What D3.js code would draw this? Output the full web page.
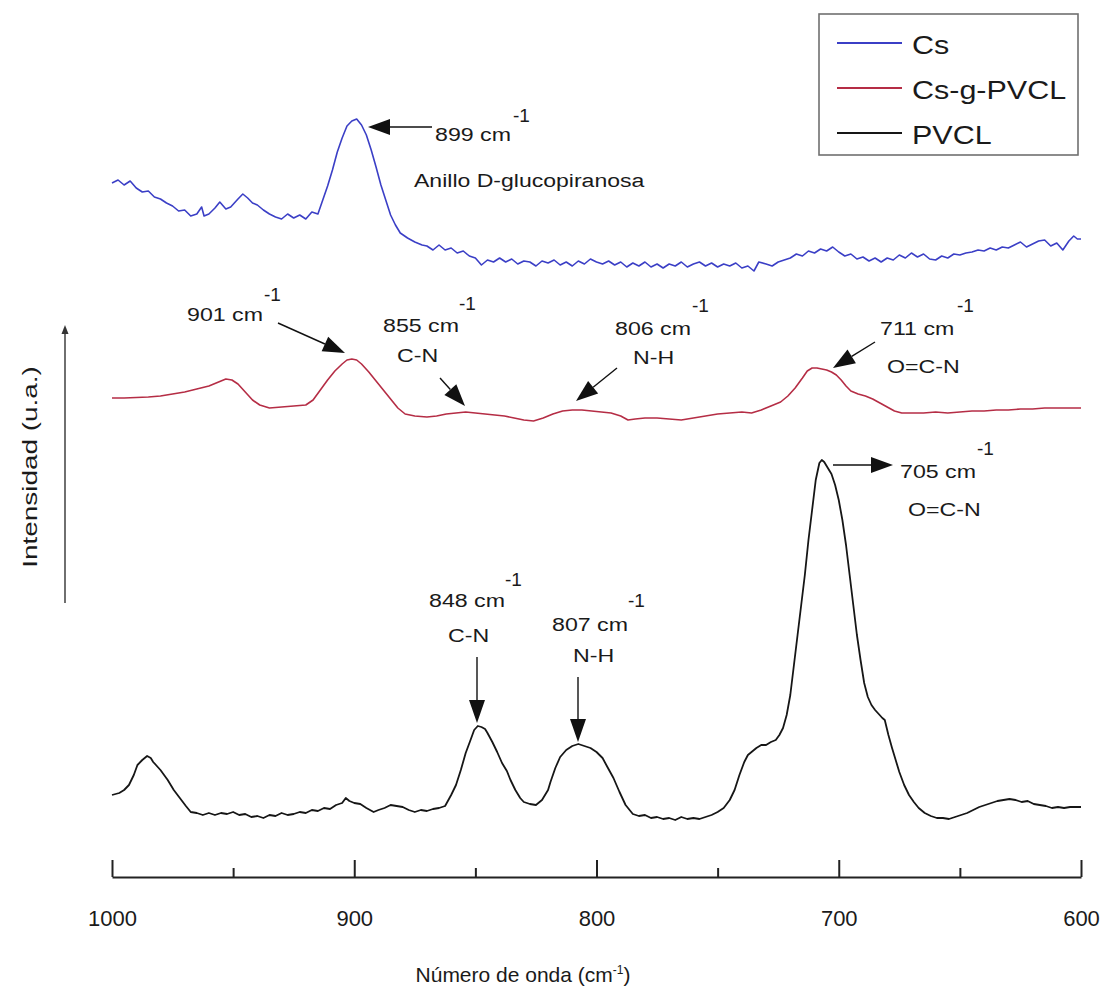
<!DOCTYPE html>
<html><head><meta charset="utf-8">
<script src="https://cdn.jsdelivr.net/npm/d3@7"></script>
<style>
body{margin:0;background:#fff}
svg{display:block}
text{font-family:"Liberation Sans",Arial,sans-serif;fill:#1a1a1a}
</style>
</head><body>
<svg id="chart" width="1105" height="991"></svg>
<script>
// ---------- data ----------
const seriesNames = ["Cs", "Cs-g-PVCL", "PVCL"];
const xTicks = [1000, 900, 800, 700, 600];
const xMinorTicks = [950, 850, 750, 650];
const xTitle = "Número de onda (cm";
const yTitle = "Intensidad (u.a.)";

// wavenumber (cm-1), intensity (a.u., stacked)
const csData = [
[1000,694],[997.5,697],[995,692],[992.5,696],[990,689],[987.5,685],[985,686],[982.5,680],[980,678],[977.5,674],
[975,671],[972.5,666],[970,667],[967.5,661],[965,663],[963,670],[962,661],[960,663],[957.5,669],[955.5,675],
[953,668],[951,670],[948,678],[946,683],[944,679],[942,674],[940,672],[937.5,667],[935,663],[932.5,660],
[930,658],[927.5,663],[925,659],[922.5,662],[920,658],[917.5,665],[915,663],[913,677],[911,691],[909,707],
[907,725],[905,739],[903,751],[901,756],[899,758],[897,752],[895,742],[893,727],[891,710],[889,692],
[887,677],[885,662],[883,652],[881,644],[878,639],[875,635],[872,632],[870,631],[867.5,627],[865,632],
[862.5,627],[860,629],[857.5,624],[855,626],[852.5,621],[850,619],[847.5,612],[845,617],[842.5,615],[840,619],
[837.5,615],[835,618],[832.5,613],[830,616],[827.5,615],[825,611],[822.5,616],[820,614],[817.5,617],[815,612],
[812.5,615],[810,611],[807.5,616],[805,613],[802.5,618],[800,615],[797.5,613],[795,616],[792.5,612],[790,615],
[787.5,610],[785,614],[782.5,611],[780,615],[777.5,610],[775,613],[772.5,609],[770,613],[767.5,611],[765,615],
[762.5,610],[760,613],[757.5,615],[755,611],[752.5,614],[750,610],[747.5,613],[745,611],[742.5,614],[740,609],
[737.5,611],[735,606],[733,615],[730,613],[727.5,611],[725,615],[722.5,617],[720,619],[717.5,623],[715,621],
[712.5,626],[710,624],[707.5,628],[705,626],[702.5,630],[700,625],[697.5,621],[695,623],[692.5,618],[690,620],
[687.5,616],[685,619],[682.5,615],[680,619],[677.5,617],[675,622],[672.5,619],[670,624],[667.5,620],[665,623],
[662.5,618],[660,617],[657.5,621],[655,619],[652.5,623],[650,622],[647.5,624],[645,625],[642.5,627],[640,626],
[637.5,629],[635,627],[632.5,630],[630,629],[627.5,632],[625,635],[622.5,630],[620,633],[617.5,636],[615,637],
[612.5,631],[610,634],[607.5,627],[605,636],[603,641],[601.5,638],[600,638]
];

const csgData = [
[1000,479],[995,479],[990,479.5],[985,480],[980,481],[975,483],[970,485],[965,488],[960,491],[956,495],
[953,498],[950.5,497],[948,493],[945,485],[942,477],[939,472],[935,469],[930,470],[925,471],[920,472],
[917,477],[914,487],[911,497],[908,506],[905,513],[903,517],[901,518],[899,517],[897,513],[894,505],
[891,496],[888,487],[885,478],[882,469],[879,463],[875,461],[870,460],[866,461],[862,463],[858,464],
[854,465],[850,464],[846,463],[842,462],[838,461],[834,459],[830,457],[826,456],[822,459],[818,463],
[814,466],[810,467],[806,467],[802,466],[798,465],[794,464],[790,461],[787,457],[784,458],[780,459],
[775,459],[770,458],[765,457],[760,459],[755,461],[750,463],[745,464],[740,465],[736,464],[732,467],
[728,471],[724,475],[721,481],[718,489],[715,499],[713,506],[711,509],[709,509],[707,508],[705,507],
[703,505],[701,502],[699,497],[697,491],[695,486],[692,483],[689,481],[686,478],[683,474],[680,470],
[677,466],[674,464],[670,464],[665,464],[660,465],[655,464],[650,465],[645,466],[640,466],[635,467],
[630,467],[625,468],[620,468],[615,469],[610,469],[605,469],[600,469]
];

const pvclData = [
[1000,82],[997,84],[995,87],[993,92],[991,102],[989.5,112],[987.5,117],[985.5,121],[984,119],[983,115],
[980,107],[977,97],[974.5,87],[972,79],[969.5,71],[967.5,65],[965,64],[962.5,62],[960,64],[957.5,62],
[955,64],[952.5,63],[950,65],[947.5,62],[945,63],[942.5,60],[940,61],[937.5,59],[935,62],[932.5,61],
[930,64],[927.5,62],[925,63],[922.5,65],[920,64],[917.5,67],[915,66],[912.5,69],[910,68],[907.5,72],
[905,74],[903.5,79],[902,76],[900,74],[897.5,73],[895,69],[892,65],[890,67],[887.5,69],[885,72],
[882.5,71],[880,70],[877.5,67],[875,65],[872.5,67],[870,66],[867.5,68],[865,69],[862.5,71],[860,82],
[858,92],[856,107],[854,124],[852,137],[850.5,147],[849,151],[847.5,150],[846,148],[845,144],[843,135],
[841,125],[839,114],[837,106],[835.5,97],[833.5,87],[831.5,79],[830,75],[827.5,73],[825,72],[822.5,77],
[820,87],[819,95],[817,109],[815,120],[812.5,127],[810,131],[807.5,133],[805,131],[802.5,129],[800,125],
[797.5,119],[795.5,110],[793,99],[790.5,85],[788,72],[785,63],[782.5,61],[780,62],[777.5,59],[775,60],
[772.5,58],[770,59],[767.5,57],[765,60],[762.5,58],[760,59],[757.5,58],[755,60],[752.5,62],[750,65],
[747.5,69],[745,77],[743,87],[741,102],[739,115],[737.5,122],[736,125],[734,129],[732,132],[730,132],
[728,135],[726,137],[724.5,142],[723,149],[721.5,162],[720,182],[718.5,212],[717,242],[715.5,272],[714,302],
[712.5,337],[711,367],[709.5,397],[708,414],[707,417],[706,415],[704.5,409],[703,403],[701.5,392],[700,377],
[698.5,357],[697,332],[695.5,302],[694,272],[692.5,242],[691,217],[689.5,194],[688,180],[686.5,172],[685,167],
[683.5,163],[682,159],[681,157],[679.5,142],[678,129],[676.5,117],[675,105],[673,92],[671,82],[669,75],
[667,69],[664.5,64],[662,61],[659.5,59],[657,59],[654.5,58],[652,60],[649.5,62],[647,64],[644.5,67],
[642,70],[639.5,72],[637,74],[634.5,76],[632,77],[629.5,78],[627,77],[624.5,75],[622,76],[619.5,73],
[617,72],[614.5,71],[612,69],[609.5,70],[607,69],[604.5,70],[602,70],[600,70]
];

// ---------- layout ----------
const svg = d3.select("#chart");
const colors = ["#3b3fc6", "#b52d45", "#161616"];
const x = d3.scaleLinear().domain([1000, 600]).range([112, 1081]);
const y = d3.scaleLinear().domain([0, 850]).range([877, 27]);

function stext(g, px, py, str, size, sx, anchor) {
  return g.append("text")
    .attr("transform", `translate(${px},${py}) scale(${sx},1)`)
    .attr("font-size", size)
    .attr("text-anchor", anchor || "start")
    .text(str);
}

// curves
const line = d3.line().x(d => x(d[0])).y(d => y(d[1]));
const allSeries = [csData, csgData, pvclData];
svg.append("g").selectAll("path").data(allSeries).join("path")
  .attr("d", line)
  .attr("fill", "none")
  .attr("stroke", (d, i) => colors[i])
  .attr("stroke-width", (d, i) => i === 2 ? 1.8 : 1.6)
  .attr("stroke-linejoin", "round");

// x axis (ticks pointing up, labels below)
const axisG = svg.append("g").attr("transform", "translate(0,877)");
axisG.call(d3.axisBottom(x).tickValues(xTicks).tickFormat(d3.format("d"))
  .tickSizeInner(-17).tickSizeOuter(0).tickPadding(33));
axisG.select(".domain").attr("stroke", "#222").attr("stroke-width", 2);
axisG.selectAll(".tick line").attr("stroke", "#222").attr("stroke-width", 2);
axisG.selectAll(".tick text").attr("font-size", 22).attr("fill", "#1a1a1a")
  .attr("font-family", '"Liberation Sans",Arial,sans-serif');
const minorG = svg.append("g").attr("transform", "translate(0,877)");
minorG.call(d3.axisBottom(x).tickValues(xMinorTicks).tickFormat("").tickSizeInner(-9).tickSizeOuter(0));
minorG.select(".domain").remove();
minorG.selectAll(".tick line").attr("stroke", "#222").attr("stroke-width", 2);

// x title
const xt = svg.append("text").attr("x", 523).attr("y", 982).attr("text-anchor", "middle")
  .attr("font-size", 21);
xt.append("tspan").text(xTitle);
xt.append("tspan").attr("font-size", 12).attr("dy", -8).text("-1");
xt.append("tspan").attr("dy", 8).text(")");

// y axis arrow + label
const defs = svg.append("defs");
function arrow(x1, y1, x2, y2, len, hw, col) {
  const ang = Math.atan2(y2 - y1, x2 - x1);
  const bx = x2 - len * Math.cos(ang), by = y2 - len * Math.sin(ang);
  svg.append("line").attr("x1", x1).attr("y1", y1).attr("x2", bx).attr("y2", by)
    .attr("stroke", col || "#111").attr("stroke-width", 1.4);
  const px = -Math.sin(ang) * hw, py = Math.cos(ang) * hw;
  svg.append("path")
    .attr("d", `M${x2},${y2}L${bx + px},${by + py}L${bx - px},${by - py}Z`)
    .attr("fill", col || "#111");
}
arrow(65, 603, 65, 325, 9, 3.5, "#333");
svg.append("text")
  .attr("transform", "translate(37,467) rotate(-90) scale(1.33,1)")
  .attr("text-anchor", "middle").attr("font-size", 21).text(yTitle);

// legend
const lg = svg.append("g");
lg.append("rect").attr("x", 819).attr("y", 14).attr("width", 259).attr("height", 141)
  .attr("fill", "#fff").attr("stroke", "#707070").attr("stroke-width", 1.6);
seriesNames.forEach((name, i) => {
  const ly = 43 + i * 45;
  lg.append("line").attr("x1", 837).attr("x2", 902).attr("y1", ly).attr("y2", ly)
    .attr("stroke", colors[i]).attr("stroke-width", 2);
  stext(lg, 912, ly + 11, name, 25, 1.22);
});

// annotations
const ag = svg.append("g");
const FS = 19, SX = 1.22;
// Cs 899
arrow(432, 127, 368, 127, 22, 8);
stext(ag, 435, 141, "899 cm", FS, SX);
stext(ag, 513, 122, "-1", FS, 1.0);
stext(ag, 414, 187, "Anillo D-glucopiranosa", 18, 1.28);
// Cs-g-PVCL 901
arrow(278, 323, 345, 353, 22, 8);
stext(ag, 187, 321, "901 cm", FS, SX);
stext(ag, 264, 301, "-1", FS, 1.0);
// 855
arrow(440, 378, 465, 406, 22, 8);
stext(ag, 383, 332, "855 cm", FS, SX);
stext(ag, 459, 310, "-1", FS, 1.0);
stext(ag, 397, 362, "C-N", FS, SX);
// 806
arrow(617, 368, 576, 401, 22, 8);
stext(ag, 615, 335, "806 cm", FS, SX);
stext(ag, 692, 312, "-1", FS, 1.0);
stext(ag, 633, 364, "N-H", FS, SX);
// 711
arrow(875, 342, 833, 368, 22, 8);
stext(ag, 880, 335, "711 cm", FS, SX);
stext(ag, 957, 312, "-1", FS, 1.0);
stext(ag, 887, 373, "O=C-N", FS, SX);
// PVCL 848
arrow(477, 657, 477, 723, 23, 8);
stext(ag, 429, 607, "848 cm", FS, SX);
stext(ag, 505, 586, "-1", FS, 1.0);
stext(ag, 448, 642, "C-N", FS, SX);
// 807
arrow(578, 677, 578, 742, 23, 8);
stext(ag, 552, 631, "807 cm", FS, SX);
stext(ag, 628, 607, "-1", FS, 1.0);
stext(ag, 573, 662, "N-H", FS, SX);
// 705
arrow(833, 465, 893, 465, 22, 8);
stext(ag, 900, 478, "705 cm", FS, SX);
stext(ag, 977, 455, "-1", FS, 1.0);
stext(ag, 908, 516, "O=C-N", FS, SX);
</script>
</body></html>
